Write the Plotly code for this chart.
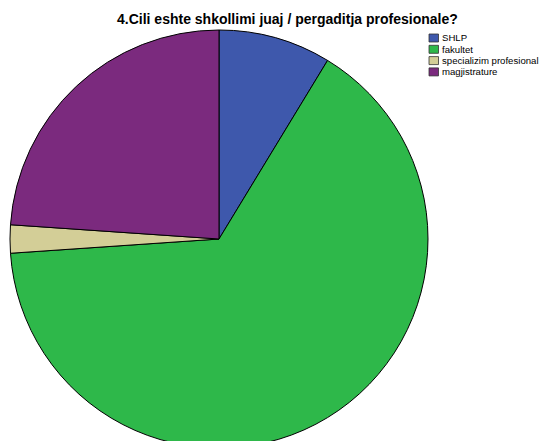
import plotly.graph_objects as go

categories = ["SHLP", "fakultet", "specializim profesional", "magjistrature"]
counts = [4, 30, 1, 11]
colors = ["#3E58AC", "#2EB84A", "#D3CE97", "#7B2A7E"]
title_text = "4.Cili eshte shkollimi juaj / pergaditja profesionale?"

W, H = 541, 460
FONT = "Arial, Liberation Sans, sans-serif"

fig = go.Figure(go.Pie(
    labels=categories,
    values=counts,
    sort=False,
    direction="clockwise",
    rotation=0,
    textinfo="none",
    hoverinfo="label+value+percent",
    marker=dict(colors=colors, line=dict(color="#000000", width=1)),
    domain=dict(x=[10 / W, 428 / W], y=[12 / H, 430 / H]),
    showlegend=False,
))

fig.add_annotation(
    text="<b>" + title_text + "</b>", x=287 / W, y=1 - 19 / H,
    xref="paper", yref="paper", showarrow=False,
    xanchor="center", yanchor="middle",
    font=dict(family=FONT, size=14, color="#000000"),
)

# legend (compact, drawn as swatches + labels)
row_h = 11.3
for i, (lab, col) in enumerate(zip(categories, colors)):
    yc = 38 + i * row_h
    fig.add_shape(
        type="rect", xref="paper", yref="paper",
        x0=429 / W, x1=438.5 / W, y0=1 - (yc + 4) / H, y1=1 - (yc - 4) / H,
        fillcolor=col, line=dict(color="#333333", width=0.8),
    )
    fig.add_annotation(
        text=lab, x=440 / W, y=1 - yc / H, xref="paper", yref="paper",
        showarrow=False, xanchor="left", yanchor="middle",
        font=dict(family=FONT, size=9.6, color="#000000"),
    )

fig.update_layout(
    width=W, height=H,
    margin=dict(l=0, r=0, t=0, b=0, autoexpand=False),
    paper_bgcolor="white", plot_bgcolor="white",
    showlegend=False,
)

fig.write_html(
    "out.html",
    config={"displayModeBar": False},
    post_script="document.body.style.margin='0';document.body.style.overflow='hidden';",
)
